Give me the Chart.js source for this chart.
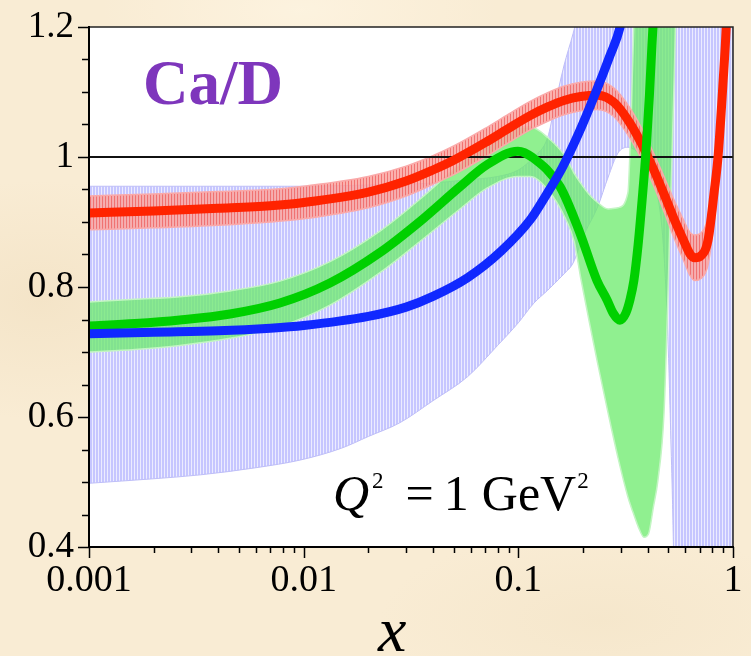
<!DOCTYPE html>
<html>
<head>
<meta charset="utf-8">
<title>Ca/D nuclear ratio</title>
<script src="https://cdn.jsdelivr.net/npm/chart.js@4.4.1/dist/chart.umd.min.js"></script>
<style>
  html, body { margin: 0; padding: 0; }
  body {
    width: 751px; height: 656px; overflow: hidden; position: relative;
    background:
      radial-gradient(ellipse 180px 120px at 40px 300px, rgba(240,222,190,0.55), rgba(240,222,190,0) 100%),
      radial-gradient(ellipse 220px 90px at 600px 620px, rgba(242,226,196,0.5), rgba(242,226,196,0) 100%),
      radial-gradient(ellipse 200px 80px at 300px 10px, rgba(255,247,230,0.6), rgba(255,247,230,0) 100%),
      #f9ecd4;
    font-family: 'Liberation Serif', 'Times New Roman', serif;
  }
  #plot { position: absolute; left: 0; top: 0; }
  .lbl { position: absolute; white-space: nowrap; color: #000; z-index: 2; }
  #nucleus { left: 143px; top: 52px; font: bold 63px/63px 'Liberation Serif', serif; color: #7e36bc; }
  #scale { left: 333px; top: 468px; font: 50px/50px 'Liberation Serif', serif; }
  #scale .sup { font-size: 23px; position: relative; top: -22px; }
  #xname { left: 378px; top: 598px; font: italic 64px/64px 'Liberation Serif', serif; }
</style>
</head>
<body>
<canvas id="plot" width="751" height="656"></canvas>
<div class="lbl" id="nucleus">Ca/D</div>
<div class="lbl" id="scale"><i>Q</i><span class="sup" style="margin-left:3px">2</span><span style="margin-left:22px">=</span><span style="margin-left:10px">1</span><span style="margin-left:13px">GeV</span><span class="sup" style="margin-left:1px">2</span></div>
<div class="lbl" id="xname">x</div>
<script>
// Axis ticks
const xTickValues = [0.001, 0.01, 0.1, 1];
const xTickLabels = ['0.001', '0.01', '0.1', '1'];
const yTickValues = [0.4, 0.6, 0.8, 1.0, 1.2];
const yTickLabels = ['0.4', '0.6', '0.8', '1', '1.2'];

// Red curve and its uncertainty band
const redX   = [0.001, 0.002, 0.004, 0.007, 0.01, 0.02, 0.03, 0.04, 0.05, 0.07,
                0.09, 0.114, 0.137, 0.163, 0.195, 0.234, 0.279, 0.324, 0.373, 0.428,
                0.477, 0.531, 0.59, 0.63, 0.665, 0.709, 0.765, 0.817, 0.853, 0.9,
                0.93, 0.95];
const redMid = [0.914, 0.917, 0.921, 0.925, 0.930, 0.946, 0.963, 0.980, 0.995, 1.022,
                1.044, 1.064, 1.077, 1.087, 1.093, 1.095, 1.084, 1.057, 1.022, 0.980,
                0.943, 0.905, 0.871, 0.851, 0.845, 0.848, 0.872, 0.946, 1.003, 1.118,
                1.200, 1.280];
const redHi  = [0.940, 0.943, 0.947, 0.950, 0.955, 0.970, 0.986, 1.002, 1.017, 1.044,
                1.066, 1.086, 1.099, 1.109, 1.115, 1.117, 1.106, 1.080, 1.046, 1.005,
                0.970, 0.934, 0.902, 0.884, 0.880, 0.883, 0.910, 0.991, 1.053, 1.178,
                1.270, 1.360];
const redLo  = [0.888, 0.891, 0.895, 0.900, 0.905, 0.922, 0.940, 0.958, 0.973, 1.000,
                1.022, 1.042, 1.055, 1.065, 1.071, 1.073, 1.062, 1.034, 0.998, 0.955,
                0.916, 0.876, 0.840, 0.818, 0.810, 0.813, 0.834, 0.901, 0.953, 1.058,
                1.130, 1.200];

// Green curve
const greenX   = [0.001, 0.00164, 0.00265, 0.00454, 0.00775, 0.01326, 0.02267, 0.0348, 0.05346, 0.07142,
                  0.0996, 0.1167, 0.1566, 0.1937, 0.2323, 0.259, 0.2762, 0.2975, 0.317, 0.331,
                  0.3454, 0.3614, 0.3773, 0.3938, 0.408, 0.4191, 0.4282, 0.442];
const greenMid = [0.740, 0.7437, 0.7492, 0.7585, 0.7754, 0.8062, 0.8531, 0.9009, 0.9543, 0.9880,
                  1.009, 0.999, 0.954, 0.883, 0.810, 0.780, 0.760, 0.749, 0.760, 0.780,
                  0.810, 0.865, 0.934, 1.011, 1.095, 1.172, 1.226, 1.300];
// Green uncertainty band
const greenBandX = [0.001, 0.00164, 0.00265, 0.00454, 0.00775, 0.01326, 0.02267, 0.0348, 0.05346, 0.07142,
                    0.0996, 0.114, 0.137, 0.166, 0.182, 0.195, 0.213, 0.234, 0.262, 0.291,
                    0.324, 0.335, 0.345, 0.362, 0.385, 0.404, 0.425, 0.447, 0.477, 0.5,
                    0.52, 0.55];
const greenHi = [0.777, 0.781, 0.785, 0.794, 0.809, 0.839, 0.886, 0.935, 0.990, 1.025,
                 1.046, 1.046, 1.030, 1.000, 0.975, 0.960, 0.943, 0.930, 0.920, 0.922,
                 0.945, 1.060, 1.200, 1.300, 1.300, 1.300, 1.300, 1.300, 1.300, 1.300,
                 1.300, 1.300];
const greenLo = [0.700, 0.704, 0.710, 0.721, 0.739, 0.772, 0.822, 0.870, 0.920, 0.952,
                 0.970, 0.970, 0.950, 0.905, 0.870, 0.815, 0.750, 0.683, 0.606, 0.538,
                 0.477, 0.462, 0.450, 0.431, 0.415, 0.420, 0.460, 0.503, 0.606, 0.810,
                 1.000, 1.300];

// Blue curve
const blueX   = [0.001, 0.002, 0.004, 0.007, 0.01, 0.02, 0.03, 0.04, 0.058, 0.083,
                 0.114, 0.1345, 0.1596, 0.1914, 0.2298, 0.2672, 0.2973, 0.33];
const blueMid = [0.728, 0.7305, 0.7326, 0.7366, 0.7408, 0.7548, 0.769, 0.7855, 0.8143, 0.855,
                 0.904, 0.941, 0.9825, 1.037, 1.100, 1.156, 1.199, 1.280];
// Blue uncertainty band
const blueBandX = [0.001, 0.002, 0.0033, 0.006, 0.0097, 0.015, 0.02, 0.028, 0.04, 0.058,
                   0.08, 0.1, 0.118, 0.137, 0.147, 0.163, 0.18, 0.2, 0.234, 0.262,
                   0.291, 0.324, 0.373, 0.44, 0.477, 0.5, 0.52, 0.54, 0.6, 1.0];
const blueHi = [0.955, 0.955, 0.955, 0.955, 0.955, 0.956, 0.957, 0.958, 0.960, 0.965,
                0.970, 0.980, 1.000, 1.030, 1.075, 1.140, 1.190, 1.250, 1.300, 1.300,
                1.300, 1.300, 1.300, 1.300, 1.300, 1.300, 1.300, 1.300, 1.300, 1.300];
const blueLo = [0.498, 0.505, 0.511, 0.522, 0.534, 0.552, 0.570, 0.591, 0.625, 0.662,
                0.710, 0.745, 0.775, 0.795, 0.805, 0.820, 0.837, 0.877, 0.923, 0.969,
                1.006, 1.015, 1.000, 0.950, 0.850, 0.700, 0.500, 0.300, 0.300, 0.300];

// Reference line at ratio 1
const unityX = [0.001, 1];
const unityY = [1, 1];

const pts = (xs, ys) => xs.map((x, i) => ({ x: x, y: ys[i] }));

const canvas = document.getElementById('plot');
const ctx = canvas.getContext('2d');

// Vertical hatching used for the error bands
function stripes(period, lineCol, gapCol, lineW) {
  const c = document.createElement('canvas');
  c.width = period; c.height = 4;
  const g = c.getContext('2d');
  g.fillStyle = gapCol; g.fillRect(0, 0, period, 4);
  g.fillStyle = lineCol; g.fillRect(0, 0, lineW, 4);
  return ctx.createPattern(c, 'repeat');
}
const blueHatch = stripes(3, 'rgb(198,198,255)', 'rgb(236,236,255)', 2);
const redHatch  = stripes(3, 'rgba(240,105,105,0.85)', 'rgba(250,165,160,0.85)', 1);

const serif = "'Liberation Serif', 'Times New Roman', serif";

// White plotting area, frame and tick marks
const frameTicks = {
  id: 'frameTicks',
  beforeDraw(chart) {
    const { ctx: c, chartArea: a } = chart;
    c.save();
    c.fillStyle = '#ffffff';
    c.fillRect(a.left, a.top, a.right - a.left, a.bottom - a.top);
    c.restore();
  },
  afterDraw(chart) {
    const { ctx: c, chartArea: a, scales } = chart;
    const xs = scales.x, ys = scales.y;
    c.save();
    c.strokeStyle = '#222';
    c.lineWidth = 1.5;
    c.beginPath();
    c.moveTo(a.left, a.top); c.lineTo(a.right, a.top); c.lineTo(a.right, a.bottom);
    c.stroke();
    c.strokeStyle = '#000';
    c.lineWidth = 2;
    c.beginPath();
    c.moveTo(a.left, a.top - 1); c.lineTo(a.left, a.bottom); c.lineTo(a.right + 1, a.bottom);
    c.stroke();
    c.lineWidth = 1.5;
    c.beginPath();
    for (let i = 8; i <= 24; i++) {
      const py = Math.round(ys.getPixelForValue(i * 0.05)) + 0.5;
      const len = (i % 4 === 0) ? 11 : 7;
      c.moveTo(a.left - len, py); c.lineTo(a.left, py);
    }
    for (let d = 0.001; d < 0.5; d *= 10) {
      for (let k = 1; k <= 10; k++) {
        const px = Math.round(xs.getPixelForValue(d * k)) + 0.5;
        const len = (k === 1 || k === 10) ? 11 : 6;
        c.moveTo(px, a.bottom); c.lineTo(px, a.bottom + len);
      }
    }
    c.stroke();
    c.restore();
  }
};

const bandEdge = (data, col, w, order, fill, bg) => ({
  data: data, borderColor: col, borderWidth: w, order: order,
  fill: fill, backgroundColor: bg || 'transparent', pointRadius: 0
});
const curve = (data, col, order) => ({
  data: data, borderColor: col, borderWidth: 9, order: order,
  fill: false, pointRadius: 0, borderJoinStyle: 'round'
});

new Chart(ctx, {
  type: 'line',
  data: {
    datasets: [
      bandEdge(pts(blueBandX, blueLo), 'rgb(190,190,248)', 1, 10, false),
      bandEdge(pts(blueBandX, blueHi), 'rgb(190,190,248)', 1, 10, '-1', blueHatch),
      bandEdge(pts(greenBandX, greenLo), 'rgb(195,245,195)', 1.5, 9, false),
      bandEdge(pts(greenBandX, greenHi), 'rgb(195,245,195)', 1.5, 9, '-1', 'rgba(107,235,107,0.75)'),
      bandEdge(pts(redX, redLo), 'rgb(250,170,170)', 1.5, 8, false),
      bandEdge(pts(redX, redHi), 'rgb(250,170,170)', 1.5, 8, '-1', redHatch),
      { data: pts(unityX, unityY), borderColor: '#111', borderWidth: 2, order: 7,
        fill: false, pointRadius: 0, cubicInterpolationMode: 'default', tension: 0 },
      curve(pts(redX, redMid), 'rgb(255,35,0)', 3),
      curve(pts(greenX, greenMid), 'rgb(0,208,0)', 2),
      curve(pts(blueX, blueMid), 'rgb(16,40,255)', 1)
    ]
  },
  options: {
    responsive: false,
    animation: false,
    devicePixelRatio: 1,
    layout: { padding: { top: 27, right: 18, left: 0, bottom: 0 } },
    plugins: { legend: { display: false }, tooltip: { enabled: false } },
    elements: { point: { radius: 0 }, line: { cubicInterpolationMode: 'monotone' } },
    scales: {
      x: {
        type: 'logarithmic', min: 0.001, max: 1, position: 'bottom',
        afterBuildTicks: s => { s.ticks = xTickValues.map(v => ({ value: v })); },
        afterFit: s => { s.height = 109; },
        grid: { display: true, drawOnChartArea: false, drawTicks: true, tickLength: 11, color: 'rgba(0,0,0,0)' },
        border: { display: false },
        ticks: {
          callback: (v, i) => xTickLabels[i],
          font: { family: serif, size: 38 }, color: '#000',
          padding: 0, maxRotation: 0, autoSkip: false
        }
      },
      y: {
        type: 'linear', min: 0.4, max: 1.2, position: 'left',
        afterBuildTicks: s => { s.ticks = yTickValues.map(v => ({ value: v })); },
        afterFit: s => { s.width = 89; },
        grid: { display: true, drawOnChartArea: false, drawTicks: true, tickLength: 11, color: 'rgba(0,0,0,0)' },
        border: { display: false },
        ticks: {
          callback: (v, i) => yTickLabels[i],
          font: { family: serif, size: 37 }, color: '#000',
          padding: 4, autoSkip: false
        }
      }
    }
  },
  plugins: [frameTicks]
});
</script>
</body>
</html>
